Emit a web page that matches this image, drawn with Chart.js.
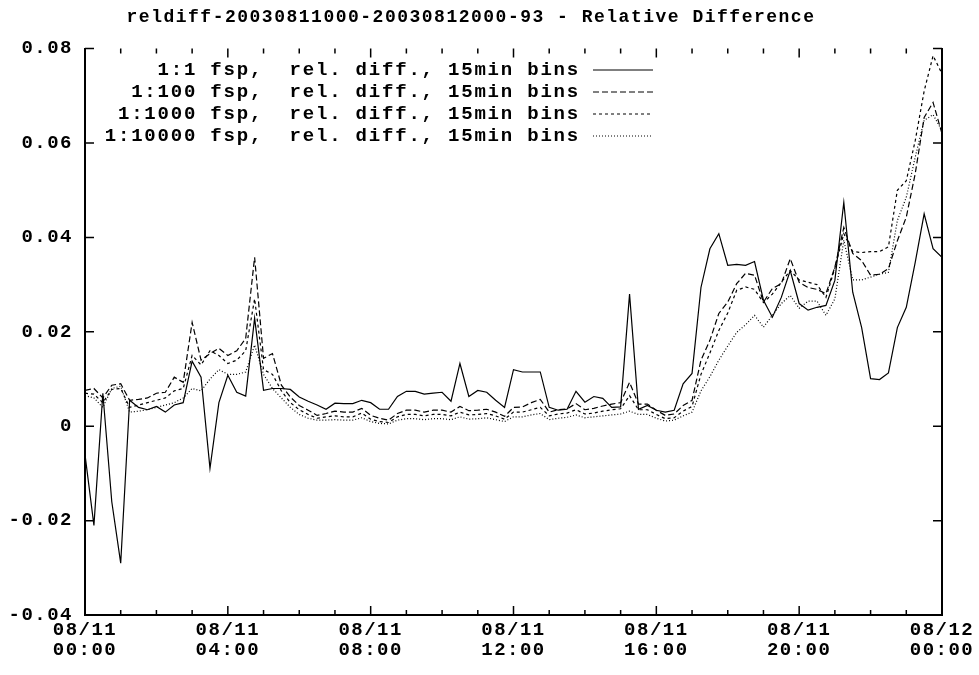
<!DOCTYPE html>
<html>
<head>
<meta charset="utf-8">
<script src="https://cdn.jsdelivr.net/npm/chart.js@4/dist/chart.umd.min.js"></script>
<style>
  html, body { margin: 0; padding: 0; background: #fff; }
  #wrap { width: 979px; height: 675px; }
</style>
</head>
<body>
<div id="wrap"><canvas id="c"></canvas></div>
<script>
// 15 minute bins, 97 points from 08/11 00:00 to 08/12 00:00
const labels = Array.from({ length: 97 }, (_, i) => i);
const tickLabels = [['08/11', '00:00'], ['08/11', '04:00'], ['08/11', '08:00'], ['08/11', '12:00'],
                    ['08/11', '16:00'], ['08/11', '20:00'], ['08/12', '00:00']];

const fsp1 = [-0.006, -0.021, 0.007, -0.016, -0.029, 0.0055, 0.004, 0.0035, 0.0042, 0.003,
  0.0045, 0.005, 0.0138, 0.0104, -0.0089, 0.005, 0.0108, 0.0072, 0.0064, 0.0229,
  0.0076, 0.008, 0.008, 0.0078, 0.0062, 0.0053, 0.0045, 0.0036, 0.0049, 0.0048,
  0.0048, 0.0055, 0.005, 0.0036, 0.0036, 0.0063, 0.0074, 0.0074, 0.0068, 0.007,
  0.0072, 0.0053, 0.0133, 0.0063, 0.0076, 0.0072, 0.0055, 0.004, 0.012, 0.0115,
  0.0115, 0.0115, 0.004, 0.0034, 0.0036, 0.0074, 0.0051, 0.0063, 0.0059, 0.004,
  0.0041, 0.028, 0.0036, 0.0044, 0.0034, 0.003, 0.0034, 0.009, 0.0112, 0.0294,
  0.0376, 0.0408, 0.0341, 0.0343, 0.0341, 0.0349, 0.0267, 0.0231, 0.0273, 0.033,
  0.026, 0.0246, 0.0252, 0.0256, 0.0309, 0.0474, 0.0284, 0.0209, 0.0101, 0.0099,
  0.0113, 0.0209, 0.0252, 0.0347, 0.045, 0.0376, 0.0358];

const fsp100 = [0.0076, 0.008, 0.006, 0.0087, 0.009, 0.0055, 0.0057, 0.006, 0.007, 0.0072,
  0.0104, 0.0093, 0.022, 0.014, 0.0154, 0.0165, 0.015, 0.016, 0.0186, 0.0358,
  0.0144, 0.0154, 0.0087, 0.0062, 0.0044, 0.0034, 0.0023, 0.0027, 0.0032, 0.003,
  0.003, 0.0038, 0.0023, 0.0017, 0.0013, 0.0027, 0.0034, 0.0034, 0.003, 0.0034,
  0.0034, 0.003, 0.0042, 0.0033, 0.0034, 0.0036, 0.003, 0.0021, 0.004, 0.0041,
  0.005, 0.0057, 0.003, 0.0035, 0.0037, 0.0048, 0.0035, 0.0038, 0.0043, 0.0047,
  0.005, 0.0093, 0.0047, 0.0047, 0.0034, 0.0023, 0.0026, 0.0044, 0.0055, 0.014,
  0.0182, 0.0239, 0.0263, 0.0302, 0.0324, 0.032, 0.0263, 0.0292, 0.0302, 0.0355,
  0.0305, 0.0294, 0.029, 0.0281, 0.0337, 0.0421, 0.0366, 0.0351, 0.032, 0.0322,
  0.0334, 0.0393, 0.0443, 0.0535, 0.0654, 0.0686, 0.062];

const fsp1000 = [0.007, 0.0068, 0.005, 0.0078, 0.008, 0.004, 0.0045, 0.005, 0.0055, 0.006,
  0.0075, 0.008, 0.015, 0.013, 0.016, 0.015, 0.0133, 0.014, 0.016, 0.027,
  0.012, 0.011, 0.0075, 0.005, 0.0035, 0.0025, 0.0017, 0.002, 0.0022, 0.002,
  0.002, 0.0028, 0.0015, 0.001, 0.0008, 0.002, 0.0025, 0.0025, 0.0022, 0.0025,
  0.0025, 0.0022, 0.003, 0.0024, 0.0025, 0.0027, 0.0022, 0.0015, 0.003, 0.003,
  0.0035, 0.004, 0.0022, 0.0026, 0.0028, 0.0035, 0.0026, 0.0028, 0.0032, 0.0035,
  0.0037, 0.0065, 0.0035, 0.0035, 0.0025, 0.0016, 0.0018, 0.0032, 0.0042, 0.011,
  0.0155, 0.0203, 0.024, 0.0288, 0.0295, 0.029, 0.0262, 0.028, 0.0305, 0.033,
  0.031, 0.0305, 0.03, 0.0273, 0.0335, 0.0408, 0.037, 0.0368, 0.037, 0.037,
  0.038, 0.05, 0.052, 0.0605, 0.071, 0.0785, 0.0747];

const fsp10000 = [0.0065, 0.006, 0.004, 0.008, 0.0085, 0.003, 0.0032, 0.0035, 0.004, 0.0045,
  0.005, 0.006, 0.008, 0.0075, 0.01, 0.012, 0.011, 0.011, 0.0115, 0.0172,
  0.011, 0.008, 0.006, 0.004, 0.0025, 0.0017, 0.0013, 0.0013, 0.0014, 0.0013,
  0.0013, 0.0018, 0.001, 0.0006, 0.0005, 0.0013, 0.0016, 0.0016, 0.0014, 0.0016,
  0.0016, 0.0014, 0.002, 0.0015, 0.0016, 0.0018, 0.0014, 0.001, 0.002, 0.002,
  0.0024, 0.0027, 0.0014, 0.0017, 0.0019, 0.0024, 0.0018, 0.002, 0.0022, 0.0024,
  0.0026, 0.0032, 0.0025, 0.0025, 0.0017, 0.0011, 0.0013, 0.0022, 0.003, 0.0075,
  0.0105, 0.014, 0.017, 0.0199, 0.0215, 0.0235, 0.021, 0.0235, 0.026, 0.0277,
  0.025, 0.0265, 0.0265, 0.0235, 0.027, 0.0394, 0.031, 0.031, 0.0316, 0.0322,
  0.0326, 0.0436, 0.0485, 0.057, 0.0648, 0.066, 0.0626];

const seriesNames = ['1:1 fsp,  rel. diff., 15min bins', '1:100 fsp,  rel. diff., 15min bins',
                     '1:1000 fsp,  rel. diff., 15min bins', '1:10000 fsp,  rel. diff., 15min bins'];
const dashes = [[], [6, 3], [3, 3], [1, 2]];
const MONO = '"Liberation Mono", "DejaVu Sans Mono", monospace';

// wider text like the gnuplot terminal font
const spacing = {
    id: 'spacing',
    beforeInit(chart) { chart.ctx.letterSpacing = '1.5px'; },
    beforeDraw(chart) { chart.ctx.letterSpacing = '1.5px'; },
};

// Gnuplot-like inward ticks and legend
const gnuplotDecor = {
    id: 'gnuplotDecor',
    afterDraw(chart) {
        const { ctx, chartArea: a, scales } = chart;
        ctx.save();
        ctx.strokeStyle = '#000';
        ctx.lineWidth = 1.5;
        ctx.setLineDash([]);
        for (let i = 0; i <= 96; i += 4) {
            const x = scales.x.getPixelForValue(i);
            const len = i % 16 === 0 ? 9 : 5;
            ctx.beginPath();
            ctx.moveTo(x, a.bottom); ctx.lineTo(x, a.bottom - len);
            ctx.moveTo(x, a.top); ctx.lineTo(x, a.top + len);
            ctx.stroke();
        }
        for (let v = -0.04; v <= 0.0801; v += 0.02) {
            const y = scales.y.getPixelForValue(v);
            ctx.beginPath();
            ctx.moveTo(a.left, y); ctx.lineTo(a.left + 9, y);
            ctx.moveTo(a.right, y); ctx.lineTo(a.right - 9, y);
            ctx.stroke();
        }
        // legend
        ctx.font = 'bold 19px ' + MONO;
        ctx.letterSpacing = '1.8px';
        ctx.fillStyle = '#000';
        ctx.textAlign = 'right';
        ctx.textBaseline = 'middle';
        seriesNames.forEach((name, k) => {
            const y = 70 + k * 22;
            ctx.fillText(name, 580, y);
            ctx.setLineDash(dashes[k]);
            ctx.lineWidth = 1;
            ctx.beginPath();
            ctx.moveTo(593, y); ctx.lineTo(653, y);
            ctx.stroke();
        });
        ctx.restore();
    }
};

new Chart(document.getElementById('c'), {
    type: 'line',
    data: {
        labels: labels,
        datasets: [fsp1, fsp100, fsp1000, fsp10000].map((d, k) => ({
            label: seriesNames[k],
            data: d,
            borderColor: '#000',
            borderWidth: 1.2,
            borderDash: dashes[k],
            pointRadius: 0,
            tension: 0,
            fill: false,
        })),
    },
    options: {
        responsive: true,
        maintainAspectRatio: false,
        animation: false,
        layout: { padding: { left: 0, right: 37, top: 0, bottom: 10 } },
        plugins: {
            legend: { display: false },
            tooltip: { enabled: false },
            title: {
                display: true,
                text: 'reldiff-20030811000-20030812000-93 - Relative Difference',
                color: '#000',
                font: { family: MONO, size: 18, weight: 'bold' },
                padding: { top: 7, bottom: 20 },
            },
        },
        scales: {
            x: {
                type: 'linear',
                min: 0,
                max: 96,
                grid: { display: false, drawTicks: false },
                border: { color: '#000', width: 2 },
                ticks: {
                    stepSize: 16,
                    color: '#000',
                    maxRotation: 0,
                    padding: 5,
                    font: { family: MONO, size: 19, weight: 'bold', lineHeight: 1.05 },
                    callback: v => tickLabels[v / 16],
                },
            },
            y: {
                min: -0.04,
                max: 0.08,
                grid: { display: false, drawTicks: false },
                border: { color: '#000', width: 2 },
                afterFit: s => { s.width = 85; },
                ticks: {
                    stepSize: 0.02,
                    color: '#000',
                    padding: 12,
                    font: { family: MONO, size: 19, weight: 'bold' },
                    callback: v => Math.abs(v) < 1e-9 ? '0' : String(+v.toFixed(2)),
                },
            },
            y2: {
                position: 'right',
                display: true,
                grid: { display: false, drawTicks: false },
                border: { color: '#000', width: 2 },
                ticks: { display: false },
                afterFit: s => { s.width = 0; },
            },
        },
    },
    plugins: [spacing, gnuplotDecor],
});
</script>
</body>
</html>
